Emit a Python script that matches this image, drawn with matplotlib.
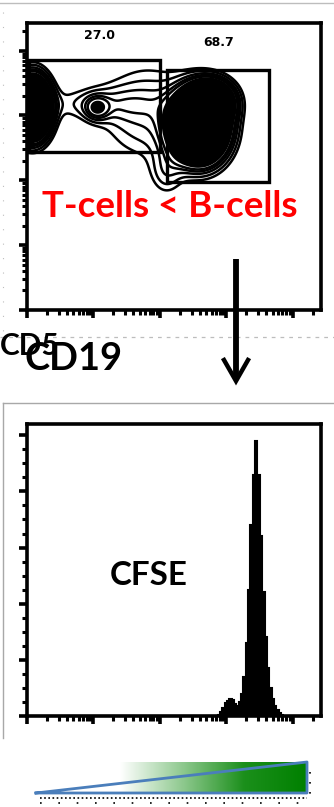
import numpy as np
import matplotlib
matplotlib.use("Agg")
import matplotlib.pyplot as plt
from matplotlib.colors import LinearSegmentedColormap

# ---------------- data ----------------
# Dot-plot populations (CD19 on x, CD5 on y; channel units 0-1000)
pop_names = ["T-cells", "T-stream", "T-knot", "B-mid", "B-cells", "B-upper", "B-tail"]
pop_cx = [18, 250, 238, 410, 585, 625, 475]
pop_cy = [705, 718, 704, 690, 640, 725, 480]
pop_sx = [35, 130, 26, 110, 55, 45, 38]
pop_sy = [60, 40, 26, 115, 70, 42, 55]
pop_w = [1.0, 0.05, 0.10, 0.065, 1.0, 0.55, 0.05]

gate_labels = ["27.0", "68.7"]
gate1 = [7, 551, 452, 871]     # x0, y0, x1, y1
gate2 = [476, 446, 823, 836]

# CFSE histogram
cfse_edges = list(range(640, 888, 8))
cfse_counts = [0, 0.5, 1.5, 3, 4.5, 5.5, 6.2, 5.8, 4.2, 3.6, 5, 8, 14, 26, 45,
               68, 86, 98, 86, 64, 44, 28, 17, 10, 6, 3.5, 2, 1, 0.5, 0]

main_text = "T-cells < B-cells"
x_label = "CD19"
y_label = "CD5"
hist_label = "CFSE"

# ---------------- figure ----------------
W, H = 334, 807
fig = plt.figure(figsize=(W / 100, H / 100), dpi=100)

def px_axes(x0, y0, x1, y1):
    return fig.add_axes([x0 / W, 1 - y1 / H, (x1 - x0) / W, (y1 - y0) / H])

decade = 226
major = [i * decade for i in range(5)]
minor = [b + decade * np.log10(k) for b in major for k in range(2, 10)
         if b + decade * np.log10(k) < 1000]

def style_axes(ax, ymajor=None, yminor=None):
    for s in ax.spines.values():
        s.set_linewidth(2.6)
        s.set_color("black")
    ax.set_xticks(major)
    ax.set_xticks(minor, minor=True)
    ax.set_yticks(ymajor if ymajor is not None else major)
    ax.set_yticks(yminor if yminor is not None else minor, minor=True)
    ax.tick_params(which="major", direction="out", length=6, width=2.6,
                   labelbottom=False, labelleft=False)
    ax.tick_params(which="minor", direction="out", length=3.5, width=2.2)

# --- top: contour dot plot ---
ax1 = px_axes(27, 23, 321, 310)
gx = np.linspace(0, 1000, 500)
gy = np.linspace(0, 1000, 500)
X, Y = np.meshgrid(gx, gy)
Z = np.zeros_like(X)
for cx, cy, sx, sy, w in zip(pop_cx, pop_cy, pop_sx, pop_sy, pop_w):
    Z += w * np.exp(-((X - cx) ** 2 / (2 * sx ** 2) + (Y - cy) ** 2 / (2 * sy ** 2)))
levels = [0.03, 0.045, 0.065, 0.085, 0.105, 0.14, 0.2, 0.3, 0.45, 0.65, 0.85]
ax1.contourf(X, Y, Z, levels=[0.14, 10], colors=["black"])
ax1.contour(X, Y, Z, levels=levels, colors="black", linewidths=1.8)
for g in (gate1, gate2):
    ax1.add_patch(plt.Rectangle((g[0], g[1]), g[2] - g[0], g[3] - g[1],
                                fill=False, lw=2.4, ec="black"))
ax1.text(248, 955, gate_labels[0], ha="center", va="center", fontsize=9,
         fontweight="bold", family="DejaVu Sans")
ax1.text(653, 932, gate_labels[1], ha="center", va="center", fontsize=9,
         fontweight="bold", family="DejaVu Sans")
ax1.set_xlim(0, 1000)
ax1.set_ylim(0, 1000)
style_axes(ax1)

# --- bottom: CFSE histogram ---
ax2 = px_axes(27, 424, 321, 716)
ax2.stairs(cfse_counts, cfse_edges, fill=True, color="black")
ax2.stairs(cfse_counts, cfse_edges, color="black", lw=1.5)
ax2.set_xlim(0, 1000)
ax2.set_ylim(0, 104)
style_axes(ax2, ymajor=[0, 20, 40, 60, 80, 100],
           yminor=[v for v in np.arange(0, 104, 5) if v % 20])

# --- overlay in pixel coords ---
ov = fig.add_axes([0, 0, 1, 1])
ov.set_xlim(0, W)
ov.set_ylim(H, 0)
ov.axis("off")
ov.patch.set_alpha(0)
ov.set_zorder(10)

grey = "#bdbdbd"
ov.plot([0, W], [3, 3], color=grey, lw=1)
ov.plot([3, 3], [12, 335], color=grey, lw=0.8, dashes=(1, 12))
ov.plot([0, W], [337, 337], color=grey, lw=0.9, dashes=(3, 4))
ov.plot([3, W], [403, 403], color="#a8a8a8", lw=1)
ov.plot([3, 3], [403, 738], color="#a8a8a8", lw=1)

# arrow
ov.plot([236, 236], [259, 378], color="black", lw=4.2, solid_capstyle="butt")
ov.plot([224, 236, 248], [360, 381, 360], color="black", lw=3.2,
        solid_joinstyle="miter")

fp = dict(family=["Lato", "DejaVu Sans"], fontweight="bold")

def fit_text(x, y, s, width, color, ha="center", size0=20):
    t = ov.text(x, y, s, ha=ha, va="baseline", color=color, fontsize=size0, **fp)
    fig.canvas.draw()
    bb = t.get_window_extent()
    t.set_fontsize(size0 * width / bb.width)
    return t

fit_text(170, 217, main_text, 256, "#ff0000")
fit_text(0, 355, y_label, 60, "black", ha="left")
fit_text(25, 370, x_label, 98, "black", ha="left")
fit_text(149, 585, hist_label, 78, "black")

# gradient wedge
cmap = LinearSegmentedColormap.from_list("g", ["#ffffff", "#8fc98f", "#1b8f1b", "#008000"])
grad = np.linspace(0, 1, 256)[None, :]
ov.imshow(grad, extent=(120, 307, 793, 762), cmap=cmap, aspect="auto", zorder=1)
ov.set_xlim(0, W)
ov.set_ylim(H, 0)
ov.plot([36, 307, 307, 36], [793, 762, 793, 793], color="#4a7ebb", lw=2, zorder=2)
ov.plot([40, 307], [798, 798], color="black", lw=1.2, dashes=(1, 1.5))
ov.plot([40, 307], [803, 803], color="black", lw=1.2, dashes=(1, 10))
ov.plot([310, 310], [772, 797], color="black", lw=1.2, dashes=(1, 5))

fig.savefig("out.png", dpi=100)
